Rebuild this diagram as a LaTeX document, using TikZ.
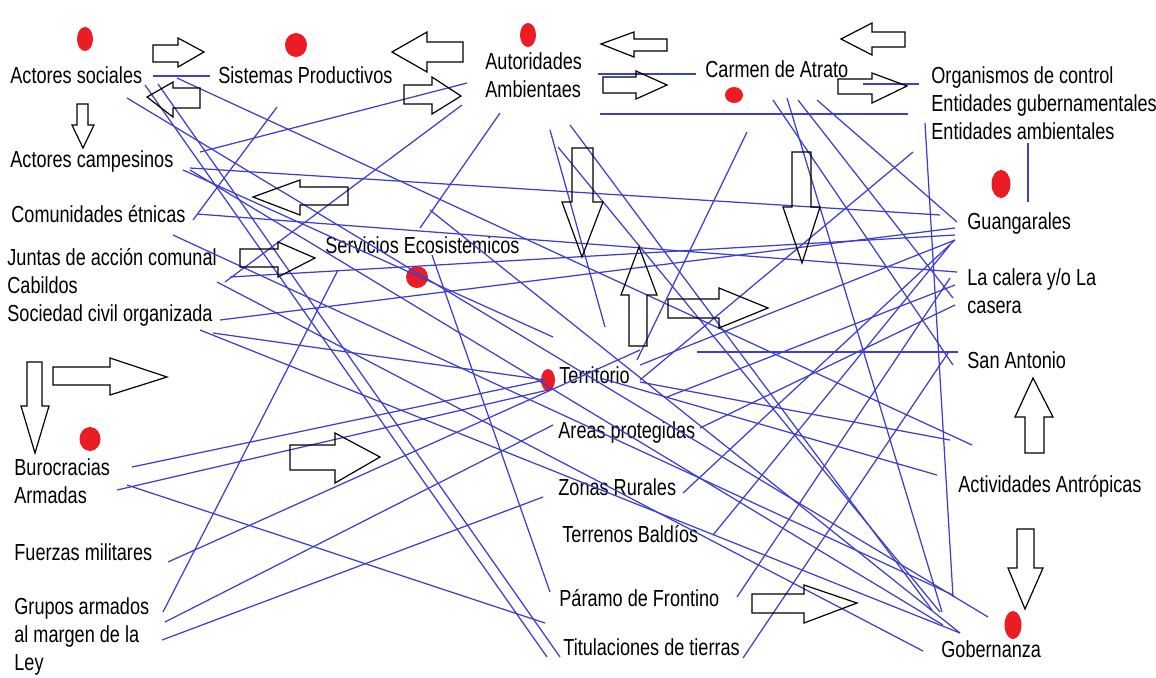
\documentclass[tikz,border=0pt]{standalone}
\usepackage{fontspec}
\setmainfont{Liberation Sans}[FakeStretch=0.78]
\usetikzlibrary{shapes.geometric}
\definecolor{linkblue}{RGB}{62,62,206}
\definecolor{dotred}{RGB}{236,28,36}

\begin{document}
\begin{tikzpicture}[x=0.5pt,y=-0.5pt,
  lbl/.style={anchor=base west,inner sep=0pt,align=left,font=\fontsize{11.6}{13.9}\selectfont},
  link/.style={linkblue,line width=0.62pt},
  blk/.style={draw=black,line width=0.6pt,line join=miter},
  reddot/.style={ellipse,fill=dotred,inner sep=0pt}]
\useasboundingbox (0,0) rectangle (1156,677);

% the red marks
\node[reddot,minimum width=8pt,minimum height=12pt] (d1) at (85,39) {};
\node[reddot,minimum width=11pt,minimum height=12pt] (d2) at (296,45) {};
\node[reddot,minimum width=8pt,minimum height=12pt] (d3) at (528,35) {};
\node[reddot,minimum width=9pt,minimum height=8pt] (d4) at (734,95) {};
\node[reddot,minimum width=9.5pt,minimum height=14pt] (d5) at (1001,184) {};
\node[reddot,minimum width=11pt,minimum height=11pt] (d6) at (417,277) {};
\node[reddot,minimum width=7pt,minimum height=11pt] (d7) at (548,380) {};
\node[reddot,minimum width=10.5pt,minimum height=12pt] (d8) at (90,439) {};
\node[reddot,minimum width=8.5pt,minimum height=14pt] (d9) at (1013,625) {};

% labels (base of the last line for the stacked ones)
\node[lbl] (as) at (10,83) {Actores sociales};
\node[lbl] (sp) at (218,83) {Sistemas Productivos};
\node[lbl] (aa) at (485,97) {Autoridades\\Ambientaes};
\node[lbl] (ca) at (705,77) {Carmen de Atrato};
\node[lbl] (oc) at (931,139) {Organismos de control\\Entidades gubernamentales\\Entidades ambientales};
\node[lbl] (ac) at (10,167) {Actores campesinos};
\node[lbl] (ce) at (11,222) {Comunidades étnicas};
\node[lbl] (jc) at (7,321) {Juntas de acción comunal\\Cabildos\\Sociedad civil organizada};
\node[lbl] (se) at (325,253) {Servicios Ecosistemicos};
\node[lbl] (gu) at (967,229) {Guangarales};
\node[lbl] (lc) at (967,313) {La calera y/o La\\casera};
\node[lbl] (sa) at (967,368) {San Antonio};
\node[lbl] (te) at (559,383) {Territorio};
\node[lbl] (ap) at (558,438) {Areas protegidas};
\node[lbl] (zr) at (558,495) {Zonas Rurales};
\node[lbl] (tb) at (562,542) {Terrenos Baldíos};
\node[lbl] (pf) at (559,606) {Páramo de Frontino};
\node[lbl] (tt) at (563,655) {Titulaciones de tierras};
\node[lbl] (at) at (958,492) {Actividades Antrópicas};
\node[lbl] (go) at (941,657) {Gobernanza};
\node[lbl] (ba) at (14,503) {Burocracias\\Armadas};
\node[lbl] (fm) at (14,560) {Fuerzas militares};
\node[lbl] (ga) at (14,670) {Grupos armados\\al margen de la\\Ley};

% blue links
\draw[link] (153,76) -- (210,76);
\draw[link] (598,74) -- (696,74);
\draw[link] (600,114) -- (908,114);
\draw[link] (863,84) -- (919,84);
\draw[link] (1028,143) -- (1028,202);
\draw[link] (925,123) -- (953,597);
\draw[link] (177,78) -- (972,445);
\draw[link] (190,168) -- (940,215);
\draw[link] (200,152) -- (467,83);
\draw[link] (462,105) -- (225,282);
\draw[link] (500,113) -- (420,228);
\draw[link] (550,130) -- (605,327);
\draw[link] (570,125) -- (932,610);
\draw[link] (558,147) -- (940,612);
\draw[link] (747,132) -- (637,360);
\draw[link] (817,100) -- (957,222);
\draw[link] (798,100) -- (953,298);
\draw[link] (787,98) -- (942,612);
\draw[link] (773,100) -- (953,365);
\draw[link] (277,107) -- (193,220);
\draw[link] (145,85) -- (547,657);
\draw[link] (158,84) -- (560,657);
\draw[link] (127,98) -- (988,617);
\draw[link] (197,214) -- (957,272);
\draw[link] (432,255) -- (550,592);
\draw[link] (162,640) -- (543,497);
\draw[link] (127,485) -- (545,623);
\draw[link] (737,597) -- (950,278);
\draw[link] (743,658) -- (948,353);
\draw[link] (683,493) -- (955,240);
\draw[link] (713,535) -- (950,245);
\draw[link] (132,467) -- (545,380);
\draw[link] (117,490) -- (548,390);
\draw[link] (168,562) -- (640,350);
\draw[link] (163,612) -- (338,270);
\draw[link] (165,622) -- (553,425);
\draw[link] (200,330) -- (960,633);
\draw[link] (213,333) -- (545,380);
\draw[link] (190,170) -- (943,625);
\draw[link] (217,282) -- (923,651);
\draw[link] (220,320) -- (955,228);
\draw[link] (230,277) -- (955,235);
\draw[link] (183,170) -- (553,337);
\draw[link] (640,365) -- (955,240);
\draw[link] (667,397) -- (955,285);
\draw[link] (697,352) -- (958,352);
\draw[link] (600,378) -- (937,475);
\draw[link] (640,382) -- (950,440);
\draw[link] (430,210) -- (960,633);
\draw[link] (173,235) -- (953,595);
\draw[link] (700,428) -- (955,305);
\draw[link] (913,152) -- (640,380);

% block arrows, pointing right
\draw[blk] (153,45) -- (178,45) -- (178,38) -- (204,52) -- (178,67) -- (178,62) -- (153,62) -- cycle;
\draw[blk] (404,85) -- (432,85) -- (432,77) -- (461,96) -- (432,114) -- (432,104) -- (404,104) -- cycle;
\draw[blk] (603,77) -- (636,77) -- (636,71) -- (667,85) -- (636,99) -- (636,93) -- (603,93) -- cycle;
\draw[blk] (838,79) -- (872,79) -- (872,73) -- (907,86) -- (872,103) -- (872,94) -- (838,94) -- cycle;
\draw[blk] (668,299) -- (719,299) -- (719,288) -- (768,308) -- (719,328) -- (719,318) -- (668,318) -- cycle;
\draw[blk] (240,249) -- (278,249) -- (278,242) -- (315,258) -- (278,277) -- (278,267) -- (240,267) -- cycle;
\draw[blk] (53,367) -- (110,367) -- (110,358) -- (167,377) -- (110,395) -- (110,385) -- (53,385) -- cycle;
\draw[blk] (290,445) -- (335,445) -- (335,433) -- (380,457) -- (335,483) -- (335,470) -- (290,470) -- cycle;
\draw[blk] (752,594) -- (804,594) -- (804,585) -- (857,603) -- (804,623) -- (804,613) -- (752,613) -- cycle;
% pointing left
\draw[blk] (200,88) -- (173,88) -- (173,82) -- (147,97) -- (173,117) -- (173,108) -- (200,108) -- cycle;
\draw[blk] (348,187) -- (300,187) -- (300,180) -- (253,197) -- (300,215) -- (300,205) -- (348,205) -- cycle;
\draw[blk] (463,42) -- (427,42) -- (427,32) -- (392,52) -- (427,72) -- (427,62) -- (463,62) -- cycle;
\draw[blk] (667,39) -- (634,39) -- (634,32) -- (601,44) -- (634,57) -- (634,51) -- (667,51) -- cycle;
\draw[blk] (905,32) -- (872,32) -- (872,23) -- (841,39) -- (872,55) -- (872,47) -- (905,47) -- cycle;
% pointing down
\draw[blk] (77,104) -- (77,125) -- (72,125) -- (83,148) -- (94,125) -- (88,125) -- (88,104) -- cycle;
\draw[blk] (572,148) -- (572,202) -- (562,202) -- (582,257) -- (603,202) -- (593,202) -- (593,148) -- cycle;
\draw[blk] (792,152) -- (792,207) -- (783,207) -- (802,263) -- (820,207) -- (811,207) -- (811,152) -- cycle;
\draw[blk] (27,362) -- (27,406) -- (21,406) -- (35,453) -- (49,406) -- (42,406) -- (42,362) -- cycle;
\draw[blk] (1017,529) -- (1017,568) -- (1008,568) -- (1025,609) -- (1043,568) -- (1034,568) -- (1034,529) -- cycle;
% pointing up
\draw[blk] (629,346) -- (629,295) -- (621,295) -- (639,247) -- (657,295) -- (647,295) -- (647,346) -- cycle;
\draw[blk] (1025,453) -- (1025,417) -- (1015,417) -- (1033,378) -- (1053,417) -- (1044,417) -- (1044,453) -- cycle;
\end{tikzpicture}
\end{document}
